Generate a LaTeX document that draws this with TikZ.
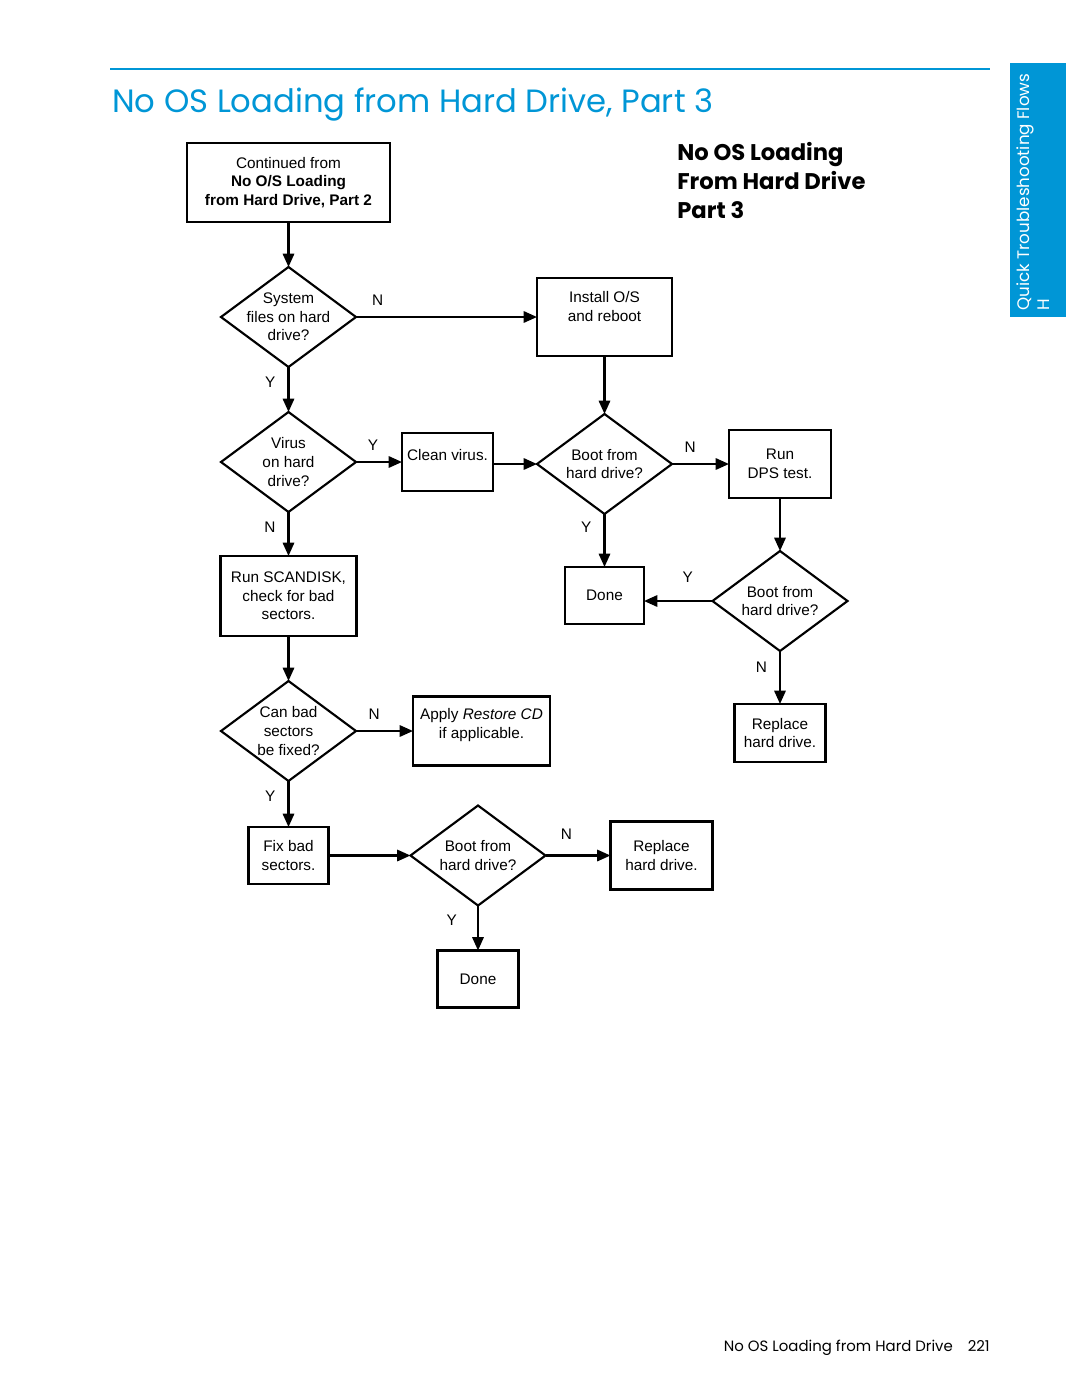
\documentclass[tikz,border=0pt]{standalone}
\usepackage{fontspec}
\setmainfont{Liberation Sans}
\newfontfamily\hpfont{Poppins}
\usetikzlibrary{arrows.meta,positioning,shapes.geometric}
\definecolor{HPBlue}{HTML}{0096D6}
\definecolor{Ink}{HTML}{000000}
\tikzset{
  flow/.style={
    draw=Ink,line width=1.6pt,fill=white,inner sep=1pt,outer sep=0pt,
    align=center,font=\fontsize{11.5}{14}\selectfont,text=Ink
  },
  decision/.style={
    diamond,aspect=1.35,draw=Ink,line width=1.6pt,fill=white,
    inner sep=-4pt,outer sep=0pt,minimum width=101.25pt,minimum height=75pt,
    align=center,font=\fontsize{11.5}{14}\selectfont,text=Ink
  },
  arrow/.style={-{Triangle[length=10pt,width=8.5pt]},line width=1.6pt,draw=Ink},
  yn/.style={font=\fontsize{11.5}{14}\selectfont,inner sep=1pt,text=Ink}
}

\begin{document}
\begin{tikzpicture}[x=0.75pt,y=-0.75pt,node distance=33.75pt]
      \useasboundingbox (0,0) rectangle (1080,1397);
      % page furniture
      \draw[HPBlue,line width=1.5pt] (110,69) -- (990,69);
      \node[anchor=base west,inner sep=0pt,text=HPBlue] (title) at (112,112)
        {\resizebox{450.75pt}{!}{\hpfont No OS Loading from Hard Drive, Part 3}};
      \fill[HPBlue] (1010,63) rectangle (1066,317);
      \node[rotate=90,anchor=north west,inner sep=0pt,text=white,align=left] (tab) at (1015,311)
        {\resizebox{177.75pt}{!}{\hpfont\begin{tabular}{@{}l@{}}Quick Troubleshooting Flows\\H\end{tabular}}};
      \node[anchor=north west,inner sep=0pt,align=left,text=Ink,
        font=\hpfont\bfseries\fontsize{17}{21.75}\selectfont] (head) at (677,142)
        {No OS Loading\\From Hard Drive\\Part 3};
      \node[anchor=base east,inner sep=0pt,text=Ink,font=\hpfont\fontsize{11.2}{14}\selectfont] (foot) at (990,1351)
        {No OS Loading from Hard Drive\quad 221};
      % flow
      \node[flow,minimum width=152.25pt,minimum height=59.25pt] (start) at (288.5,182.5)
        {Continued from\\\textbf{No O/S Loading}\\\textbf{from Hard Drive, Part 2}};
      \node[decision,below=of start] (sysq) {System\\files on hard\\drive?};
      \node[flow,minimum width=101.25pt,minimum height=58.5pt,text depth=15.8pt,right=135.75pt of sysq] (install)
        {Install O/S\\and reboot};
      \node[decision,below=of sysq] (virusq) {Virus\\on hard\\drive?};
      \node[flow,minimum width=68.25pt,minimum height=43.5pt,text depth=11pt,right=34.5pt of virusq] (clean) {Clean virus.};
      \node[decision,below=43.5pt of install] (bootq) {Boot from\\hard drive?};
      \node[flow,minimum width=76.5pt,minimum height=51pt,right=42.75pt of bootq] (dps) {Run\\DPS test.};
      \node[flow,minimum width=59.25pt,minimum height=42.75pt,below=39.75pt of bootq] (done) {Done};
      \node[decision,below=39.75pt of dps] (dpsq) {Boot from\\hard drive?};
      \node[flow,minimum width=68.25pt,minimum height=43.5pt,below=39.75pt of dpsq] (replace) {Replace\\hard drive.};
      \node[flow,minimum width=102pt,minimum height=60pt,below=33pt of virusq] (scan)
        {Run SCANDISK,\\check for bad\\sectors.};
      \node[decision,below=of scan] (fixq) {Can bad\\sectors\\be fixed?};
      \node[flow,minimum width=102.75pt,minimum height=51.75pt,text depth=11.3pt,right=42.75pt of fixq] (restore)
        {Apply \textit{Restore CD}\\if applicable.};
      \node[flow,minimum width=60pt,minimum height=42.75pt,below=34.5pt of fixq] (fix) {Fix bad\\sectors.};
      \node[decision,right=61.5pt of fix] (lastq) {Boot from\\hard drive?};
      \node[flow,minimum width=76.5pt,minimum height=51pt,right=48.75pt of lastq] (replacetoo) {Replace\\hard drive.};
      \node[flow,minimum width=60.75pt,minimum height=42.75pt,below=of lastq] (donetoo) {Done};
      \draw[arrow] (start) -- (sysq);
      \draw[arrow] (sysq) -- node[yn,above=7pt,pos=0.12] {N} (install);
      \draw[arrow] (sysq) -- node[yn,left=8pt,pos=0.33] {Y} (virusq);
      \draw[arrow] (install) -- (bootq);
      \draw[arrow] (virusq) -- node[yn,above=7pt,pos=0.37] {Y} (clean);
      \draw[arrow] (clean.east |- bootq.west) -- (bootq.west);
      \draw[arrow] (bootq) -- node[yn,above=7pt,pos=0.32] {N} (dps);
      \draw[arrow] (bootq) -- node[yn,left=8pt,pos=0.25] {Y} (done);
      \draw[arrow] (dps) -- (dpsq);
      \draw[arrow] (dpsq.west) -- node[yn,above=12pt,pos=0.36] {Y} (dpsq.west -| done.east);
      \draw[arrow] (dpsq) -- node[yn,left=8pt,pos=0.3] {N} (replace);
      \draw[arrow] (virusq) -- node[yn,left=8pt,pos=0.34] {N} (scan);
      \draw[arrow] (scan) -- (fixq);
      \draw[arrow] (fixq) -- node[yn,above=7pt,pos=0.32] {N} (restore);
      \draw[arrow] (fixq) -- node[yn,left=8pt,pos=0.33] {Y} (fix);
      \draw[arrow] (fix) -- (lastq);
      \draw[arrow] (lastq) -- node[yn,above=10pt,pos=0.32] {N} (replacetoo);
      \draw[arrow] (lastq) -- node[yn,left=14pt,pos=0.33] {Y} (donetoo);
    \end{tikzpicture}
\end{document}
